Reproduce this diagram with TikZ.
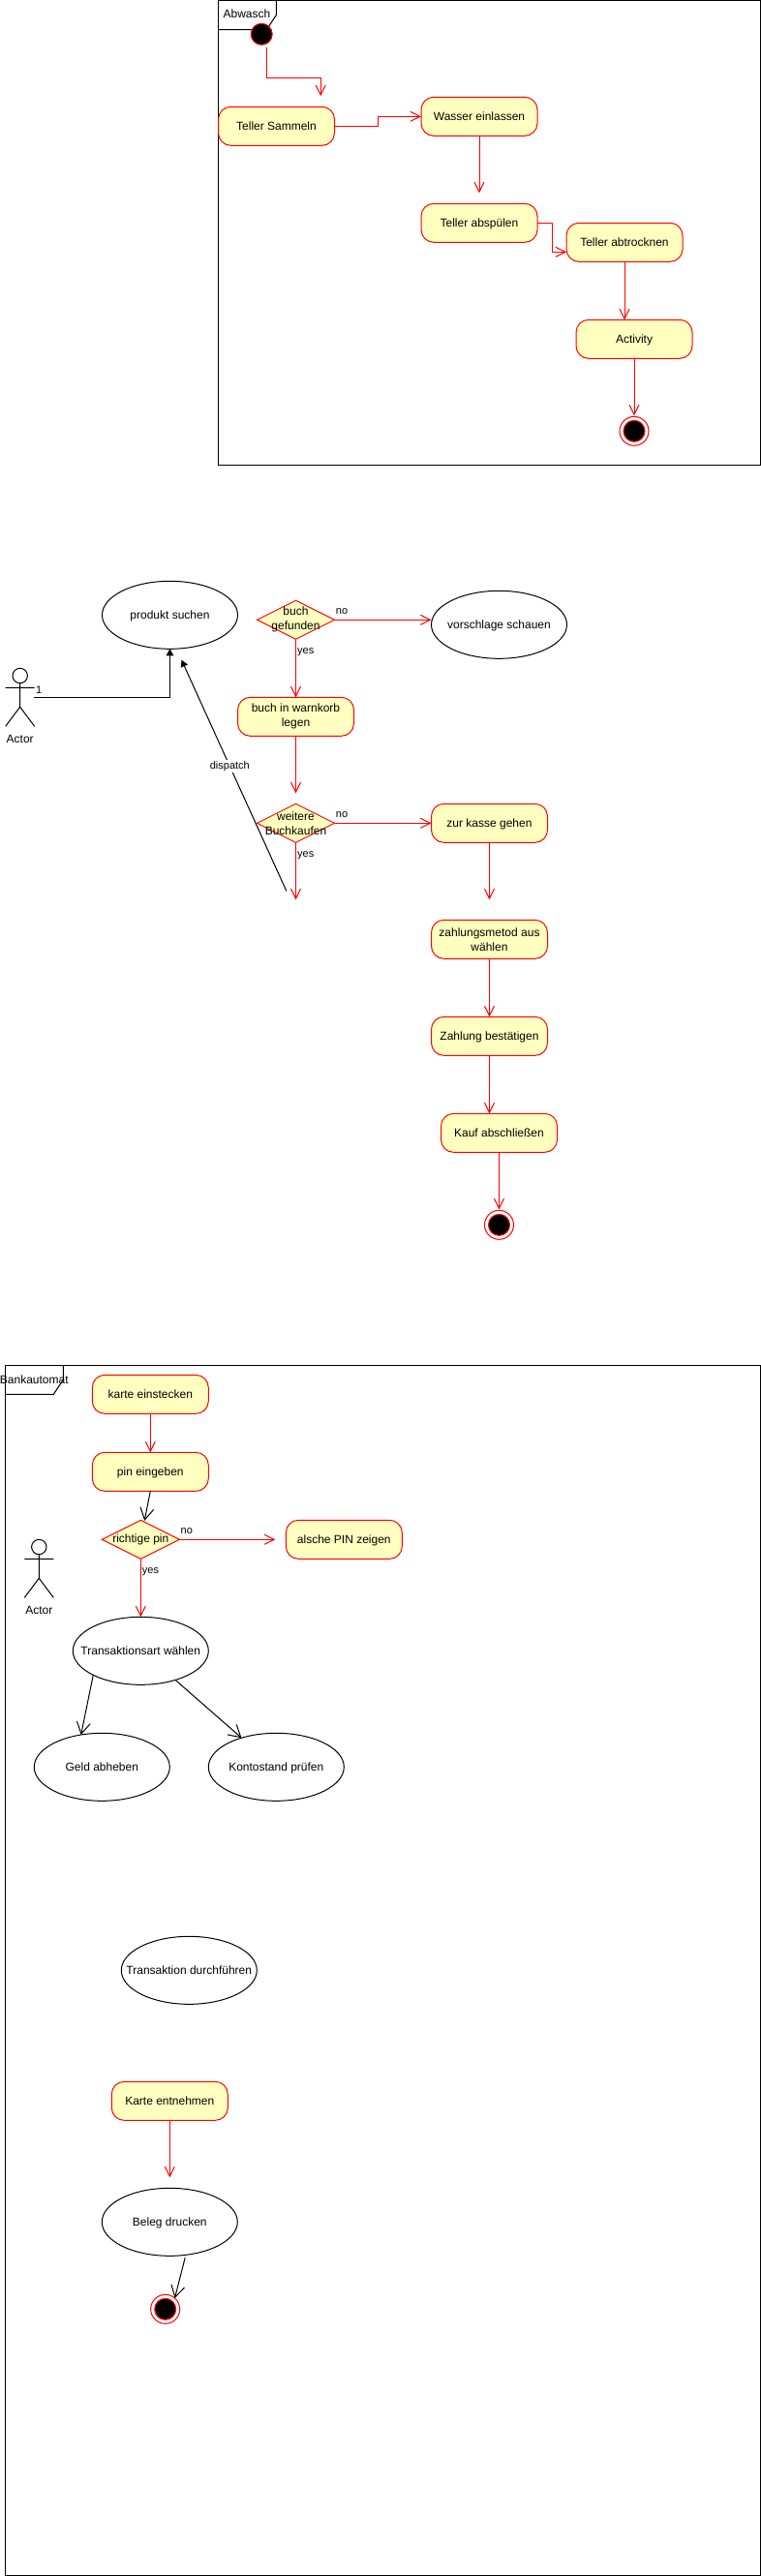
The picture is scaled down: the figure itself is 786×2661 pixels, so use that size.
\documentclass[tikz,border=0pt]{standalone}
\usepackage{fontspec}
\setmainfont{Liberation Sans}
\usetikzlibrary{arrows.meta,positioning,shapes.geometric,calc}
\definecolor{cflow}{HTML}{FF0000}
\definecolor{cact}{HTML}{FFFFC0}
\tikzset{
  every node/.append style={font=\fontsize{12}{15}\selectfont},
  oneline/.style={text height=8.6pt,text depth=0pt},
  twolines/.style={text height=,text depth=},
  activity/.style={draw=cflow,fill=cact,rounded corners=13pt,align=center,inner sep=0pt,outer sep=0pt,minimum width=120pt,minimum height=40pt,oneline},
  decision/.style={diamond,draw=cflow,fill=cact,aspect=2,inner sep=0pt,outer sep=0pt,minimum width=80pt,minimum height=40pt,label={[align=center]center:#1}},
  usecase/.style={ellipse,draw=black,inner sep=0pt,outer sep=0pt,minimum width=140pt,minimum height=70pt,label={[oneline]center:#1}},
  startdot/.style={circle,draw=cflow,fill=black,inner sep=0pt,outer sep=0pt,minimum size=22pt},
  enddot/.style={circle,draw=cflow,fill=white,inner sep=0pt,outer sep=0pt,minimum size=30pt,label={[startdot]center:{}}},
  umlframe/.style={draw=black,anchor=north west,inner sep=0pt,outer sep=0pt},
  guard/.style={font=\fontsize{11}{13}\selectfont,inner sep=0pt},
  flow/.style={draw=cflow,-{Straight Barb[length=10pt,width=10pt]}},
  assoc/.style={draw=black,-{Straight Barb[length=12pt,width=14pt]}},
  nav/.style={draw=black,-{Triangle[length=7pt,width=7.5pt]}},
  actor/.pic={
    \node[circle,draw=black,inner sep=0pt,outer sep=0pt,minimum size=15.4pt] (-head) at (0,0) {};
    \draw (-head.south) -- (0,32.3) (-15,12.3) -- (15,12.3) (-15,52.3) -- (0,32.3) -- (15,52.3);
    \node (-name) at (0,65.7) {Actor};
  }
}
\begin{document}
\begin{tikzpicture}[x=1pt,y=-1pt,line width=1pt]
    \useasboundingbox (0,0) rectangle (786,2661);

    \node[umlframe,minimum width=559.6pt,minimum height=479.5pt] (abwasch) at (225.4,0.5) {};
    \draw (abwasch.north west) ++(0,30) -- ++(50,0) -- ++(10,-15) -- ++(0,-15);
    \node (abwaschname) at (255,14.7) {Abwasch};
    \node[startdot] (start) at (270.2,35.3) {};
    \node[activity] (sammeln) at (285.5,130.3) {Teller Sammeln};
    \node[activity,right=89.5pt of sammeln,yshift=10pt] (wasser) {Wasser einlassen};
    \node[activity,below=70pt of wasser] (spuelen) {Teller abspülen};
    \node[activity,right=30pt of spuelen,yshift=-20pt] (trocknen) {Teller abtrocknen};
    \node[activity,below=60pt of trocknen,xshift=10pt] (activity1) {Activity};
    \node[enddot,below=60pt of activity1] (end1) {};
    \coordinate (startout) at (275.4,49.3);
    \coordinate (sammelnin) at (331.2,99.3);
    \draw[flow] (startout) -- ++(0,31) -| (sammelnin);
    \draw[flow] (sammeln.east) -- ++(45,0) |- (wasser.west);
    \draw[flow,shorten >=11pt] (wasser.south) -- (spuelen.north);
    \draw[flow] (spuelen.east) -- ++(15,0) |- ($(trocknen.west)+(0,10)$);
    \draw[flow] (trocknen.south) -- (trocknen.south |- activity1.north);
    \draw[flow,shorten >=1pt] (activity1.south) -- (end1.north);

    \node[usecase={produkt suchen}] (produkt) at (175.5,635.3) {};
    \node[decision={buch\\ gefunden},right=20pt of produkt,yshift=-5pt] (gefunden) {};
    \node[usecase={vorschlage schauen},right=100pt of gefunden,yshift=-5pt] (vorschlage) {};
    \node[activity,twolines,below=60pt of gefunden] (warenkorb) {buch in warnkorb\\ legen};
    \node[decision={weitere\\ Buchkaufen},below=70pt of warenkorb] (weitere) {};
    \node[activity,right=100pt of weitere] (kasse) {zur kasse gehen};
    \node[activity,twolines,below=80pt of kasse] (methode) {zahlungsmetod aus\\ wählen};
    \node[activity,below=60pt of methode] (bestaetigen) {Zahlung bestätigen};
    \node[activity,below=60pt of bestaetigen,xshift=10pt] (abschluss) {Kauf abschließen};
    \node[enddot,below=60pt of abschluss] (end2) {};
    \pic (kunde) at (20.7,698) {actor};
    \coordinate (kundeout) at (35.2,720);
    \coordinate (zurueckstart) at (295.8,920.3);
    \coordinate (zurueckend) at (187.5,681.7);
    \draw[nav] (kundeout) -| (produkt.south);
    \node[guard] (kundeeins) at (40.2,712.3) {1};
    \draw[nav] (zurueckstart) -- node[guard,fill=white,pos=.54,inner sep=1pt] (dispatch) {dispatch} (zurueckend);
    \draw[flow] (gefunden.east) -- (gefunden.east -| vorschlage.west);
    \draw[flow] (gefunden.south) -- (warenkorb.north);
    \draw[flow,shorten >=11pt] (warenkorb.south) -- (weitere.north);
    \draw[flow] (weitere.east) -- (kasse.west);
    \draw[flow,shorten >=59pt] (weitere.south) -- ++(0,118);
    \draw[flow,shorten >=21pt] (kasse.south) -- (methode.north);
    \draw[flow] (methode.south) -- (bestaetigen.north);
    \draw[flow] (bestaetigen.south) -- (bestaetigen.south |- abschluss.north);
    \draw[flow,shorten >=1pt] (abschluss.south) -- (end2.north);

    \node[umlframe,minimum width=779.7pt,minimum height=1249.7pt] (bank) at (5.3,1410.3) {};
    \draw (bank.north west) ++(0,30) -- ++(50,0) -- ++(10,-15) -- ++(0,-15);
    \node (bankname) at (35.3,1424.7) {Bankautomat};
    \node[activity] (karte) at (155.3,1440.3) {karte einstecken};
    \node[activity,below=40pt of karte] (pin) {pin eingeben};
    \node[decision={richtige pin},below=30pt of pin,xshift=-10pt] (pruefung) {};
    \node[activity,right=110pt of pruefung] (falsch) {alsche PIN zeigen};
    \node[usecase={Transaktionsart wählen},below=60pt of pruefung] (transaktion) {};
    \node[usecase={Geld abheben},below=50pt of transaktion,xshift=-40pt] (geld) {};
    \node[usecase={Kontostand prüfen},right=40pt of geld] (konto) {};
    \node[usecase={Transaktion durchführen},below=140pt of geld,xshift=90pt] (durchfuehren) {};
    \node[activity,below=80pt of durchfuehren,xshift=-20pt] (entnehmen) {Karte entnehmen};
    \node[usecase={Beleg drucken},below=70pt of entnehmen] (beleg) {};
    \node[enddot,below=40pt of beleg,xshift=-4.6pt] (end3) {};
    \pic (bediener) at (40.3,1598) {actor};
    \draw[flow] (karte.south) -- (pin.north);
    \draw[assoc] (pin.south) -- ($(pruefung.north)+(4,0.5)$);
    \draw[flow,shorten >=11pt] (pruefung.east) -- (falsch.west);
    \draw[flow] (pruefung.south) -- (transaktion.north);
    \draw[assoc] (transaktion.207) -- (geld.123);
    \draw[assoc] (transaktion.320) -- (konto.140);
    \draw[flow,shorten >=11pt] (entnehmen.south) -- (beleg.north);
    \draw[assoc,shorten <=3pt] (beleg.296) -- (end3.49);

    \foreach \dec in {gefunden,weitere,pruefung} {
      \node[guard] (\dec no) at ($(\dec.east)+(7.5,-8.6)$) {no};
      \node[guard] (\dec yes) at ($(\dec.south)+(10.2,13)$) {yes};
    }
  \end{tikzpicture}
\end{document}
